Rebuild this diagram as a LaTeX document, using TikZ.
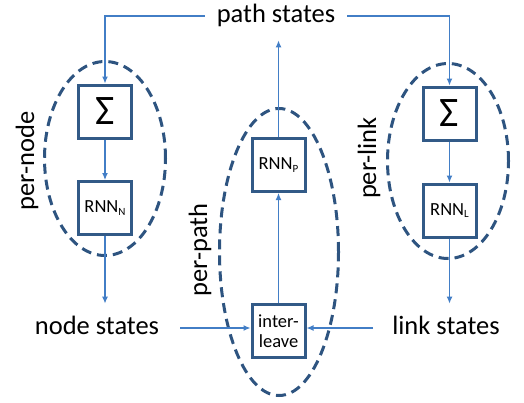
\documentclass[tikz,border=0pt]{standalone}
\usepackage{fontspec}
\setmainfont{Carlito}
\usetikzlibrary{arrows.meta, shapes.geometric}

\definecolor{grpblue}{RGB}{46,84,128}
\definecolor{boxblue}{RGB}{50,90,135}
\definecolor{flowblue}{RGB}{66,126,198}

\newcommand{\rnn}[1]{RNN\raisebox{-0.3ex}{\fontsize{11}{11}\selectfont #1}}
\newcommand{\sumsym}{{\fontsize{42}{42}\selectfont Σ}}

\begin{document}
\begin{tikzpicture}[x=1pt, y=-1pt,
  cell/.style={draw=boxblue, line width=3pt, fill=white, minimum size=53pt, inner sep=0pt, align=center, font=\fontsize{18.5}{20}\selectfont},
  group/.style={ellipse, draw=grpblue, line width=3pt, dash pattern=on 10pt off 6pt, minimum width=121pt, inner sep=0pt},
  arr/.style={-{Latex[length=7pt, width=6pt]}, line width=1.2pt, flowblue},
  lbl/.style={font=\fontsize{26.5}{30}\selectfont, inner sep=12pt, text height=19pt, text depth=5.5pt},
  tag/.style={font=\fontsize{26.5}{30}\selectfont, inner sep=0pt, rotate=90}
]
\useasboundingbox (0,0) rectangle (524,402);

% dashed groups
\node[group, minimum height=194pt] (nodegrp) at (105,158.5) {};
\node[group, minimum height=287pt, minimum width=119pt] (pathgrp) at (279,252) {};
\node[group, minimum height=195pt] (linkgrp) at (448,161) {};

% blocks
\node[cell] (sumN) at (105,111.5) {\sumsym};
\node[cell] (rnnN) at (105,208) {\rnn{N}};
\node[cell] (rnnP) at (278.5,165) {\rnn{P}};
\node[cell] (ilv)  at (278.5,331) {inter-\\leave};
\node[cell] (sumL) at (449.5,113.5) {\sumsym};
\node[cell] (rnnL) at (449.5,210.5) {\rnn{L}};

% state labels
\node[lbl] (pathst) at (276,16) {path states};
\node[lbl, inner xsep=21pt] (nodest) at (97,328) {node states};
\node[lbl, inner xsep=19pt] (linkst) at (446,328) {link states};

% group tags
\node[tag] (tagN) at (27,161) {per-node};
\node[tag] (tagP) at (200,250) {per-path};
\node[tag] (tagL) at (369,158) {per-link};

% flows
\draw[arr] (pathst.west) -| (sumN);
\draw[arr] (pathst.east) -| (sumL);
\draw[arr] (sumN) -- (rnnN);
\draw[arr] (sumL) -- (rnnL);
\draw[arr] (rnnN) -- (rnnN |- nodest.north);
\draw[arr] (rnnL) -- (rnnL |- linkst.north);
\draw[arr] (nodest.east) -- (nodest.east -| ilv.west);
\draw[arr] (linkst.west) -- (linkst.west -| ilv.east);
\draw[arr] (ilv) -- (rnnP);
\draw[arr] (rnnP) -- (rnnP |- pathst.south);

\end{tikzpicture}
\end{document}
